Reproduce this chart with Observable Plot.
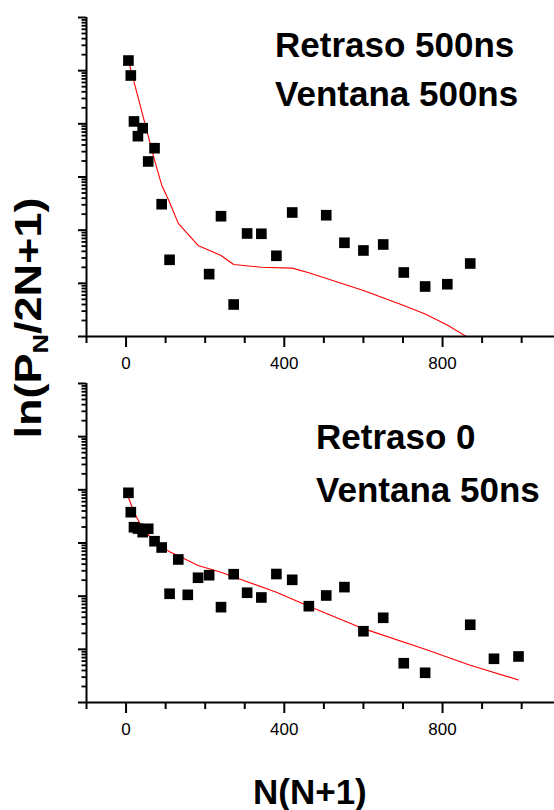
<!DOCTYPE html>
<html>
<head>
<meta charset="utf-8">
<script src="https://cdn.jsdelivr.net/npm/d3@7"></script>
<script src="https://cdn.jsdelivr.net/npm/@observablehq/plot@0.6"></script>
<style>
  body { margin: 0; background: #fff; }
  #wrap { position: relative; width: 554px; height: 810px; overflow: hidden; background: #fff;
          font-family: "Liberation Sans", Arial, sans-serif; color: #000; }
  .panel { position: absolute; left: 0; }
  .lbl { position: absolute; font-weight: bold; font-size: 35px; line-height: 35px; white-space: nowrap; }
  #ylab { position: absolute; left: 35px; top: 318px; transform: translate(-50%, -50%) rotate(-90deg) scale(1.25, 1);
          font-weight: bold; font-size: 36px; line-height: 36px; white-space: nowrap; }
  #ylab sub { font-size: 0.6em; vertical-align: -0.3em; }
</style>
</head>
<body>
<div id="wrap">
  <div id="p1" class="panel" style="top:0px"></div>
  <div id="p2" class="panel" style="top:366px"></div>
  <div class="lbl" style="left:275px; top:27px">Retraso 500ns</div>
  <div class="lbl" style="left:275px; top:76px">Ventana 500ns</div>
  <div class="lbl" style="left:316px; top:419px">Retraso 0</div>
  <div class="lbl" style="left:316px; top:472px">Ventana 50ns</div>
  <div class="lbl" style="left:253px; top:774px">N(N+1)</div>
  <div id="ylab">ln(P<sub>N</sub>/2N+1)</div>
</div>
<script>
// ---- Data: upper panel (Retraso 500ns, Ventana 500ns) ----
const topPointsX = [6, 12, 20, 30, 42, 56, 72, 90, 110, 210, 240, 272, 306, 342, 380, 420, 506, 552, 600, 650, 702, 756, 812, 870];
const topPointsY = [1.55e-1, 8.11e-2, 1.11e-2, 5.86e-3, 8.28e-3, 1.96e-3, 3.48e-3, 3.08e-4, 2.77e-5, 1.49e-5, 1.83e-4, 4.00e-6, 8.66e-5, 8.55e-5, 3.30e-5, 2.15e-4, 1.91e-4, 5.79e-5, 4.15e-5, 5.38e-5, 1.60e-5, 8.72e-6, 9.63e-6, 2.36e-5];
const topFitX = [6, 72, 90, 110, 132, 182, 240, 272, 342, 420, 462, 600, 702, 756, 812, 860];
const topFitY = [1.55e-1, 2.07e-3, 7.08e-4, 3.34e-4, 1.34e-4, 5.15e-5, 3.34e-5, 2.26e-5, 2.01e-5, 1.93e-5, 1.58e-5, 7.34e-6, 3.84e-6, 2.64e-6, 1.65e-6, 1.0e-6];

// ---- Data: lower panel (Retraso 0, Ventana 50ns) ----
const botPointsX = [6, 12, 20, 30, 42, 56, 72, 90, 110, 132, 156, 182, 210, 240, 272, 306, 342, 380, 420, 462, 506, 552, 600, 650, 702, 756, 870, 930, 992];
const botPointsY = [8.79e-3, 3.80e-3, 1.98e-3, 1.87e-3, 1.60e-3, 1.85e-3, 1.08e-3, 8.23e-4, 1.11e-4, 4.90e-4, 1.06e-4, 2.22e-4, 2.48e-4, 6.21e-5, 2.59e-4, 1.16e-4, 9.45e-5, 2.61e-4, 2.03e-4, 6.48e-5, 1.03e-4, 1.48e-4, 2.19e-5, 3.92e-5, 5.48e-6, 3.62e-6, 2.90e-5, 6.64e-6, 7.34e-6];
const botFitX = [6, 20, 42, 72, 110, 132, 182, 240, 306, 380, 462, 600, 756, 870, 992];
const botFitY = [7.27e-3, 3.79e-3, 1.88e-3, 1.05e-3, 6.87e-4, 5.74e-4, 3.76e-4, 2.81e-4, 1.87e-4, 1.19e-4, 6.48e-5, 2.45e-5, 1.00e-5, 5.04e-6, 2.66e-6];

// ---- Axis ticks ----
const xMajorTicks = [0, 400, 800];
const xMinorTicks = [-100, 100, 200, 300, 500, 600, 700, 900, 1000];
const xDomain = [-100, 1083];
const yDomain = [1e-6, 1];
const yAllTicks = d3.scaleLog().domain(yDomain).ticks();
const yMajorTicks = yAllTicks.filter(v => Math.abs(Math.log10(v) - Math.round(Math.log10(v))) < 1e-9);
const yMinorTicks = yAllTicks.filter(v => !yMajorTicks.includes(v));

function makePanel(px, py, fx, fy) {
  const pts = px.map((x, i) => ({x, y: py[i]}));
  const fit = fx.map((x, i) => ({x, y: fy[i]}));
  return Plot.plot({
    width: 554,
    height: 375,
    marginTop: 17,
    marginBottom: 39,
    marginLeft: 86,
    marginRight: 0,
    style: {fontFamily: "'Liberation Sans', Arial, sans-serif", fontSize: "17px", color: "#000", background: "transparent", overflow: "visible"},
    x: {domain: xDomain, range: [86, 554]},
    y: {type: "log", domain: yDomain},
    marks: [
      Plot.line(fit, {x: "x", y: "y", stroke: "#ff0000", strokeWidth: 1.1, clip: true}),
      Plot.dot(pts, {x: "x", y: "y", symbol: "square", r: 6, fill: "#000", stroke: null}),
      Plot.axisY({ticks: yMajorTicks, tickSize: 8, strokeWidth: 2, tickFormat: () => "", label: null}),
      Plot.axisY({ticks: yMinorTicks, tickSize: 4.5, strokeWidth: 1.8, tickFormat: () => "", label: null}),
      Plot.axisX({ticks: xMajorTicks, tickSize: 11, tickPadding: 9, strokeWidth: 2, tickFormat: d => String(d), label: null}),
      Plot.axisX({ticks: xMinorTicks, tickSize: 7, strokeWidth: 2, tickFormat: () => "", label: null}),
      Plot.ruleX([xDomain[0]], {stroke: "#000", strokeWidth: 2}),
      Plot.ruleY([yDomain[0]], {stroke: "#000", strokeWidth: 2})
    ]
  });
}

document.getElementById("p1").appendChild(makePanel(topPointsX, topPointsY, topFitX, topFitY));
document.getElementById("p2").appendChild(makePanel(botPointsX, botPointsY, botFitX, botFitY));
</script>
</body>
</html>
